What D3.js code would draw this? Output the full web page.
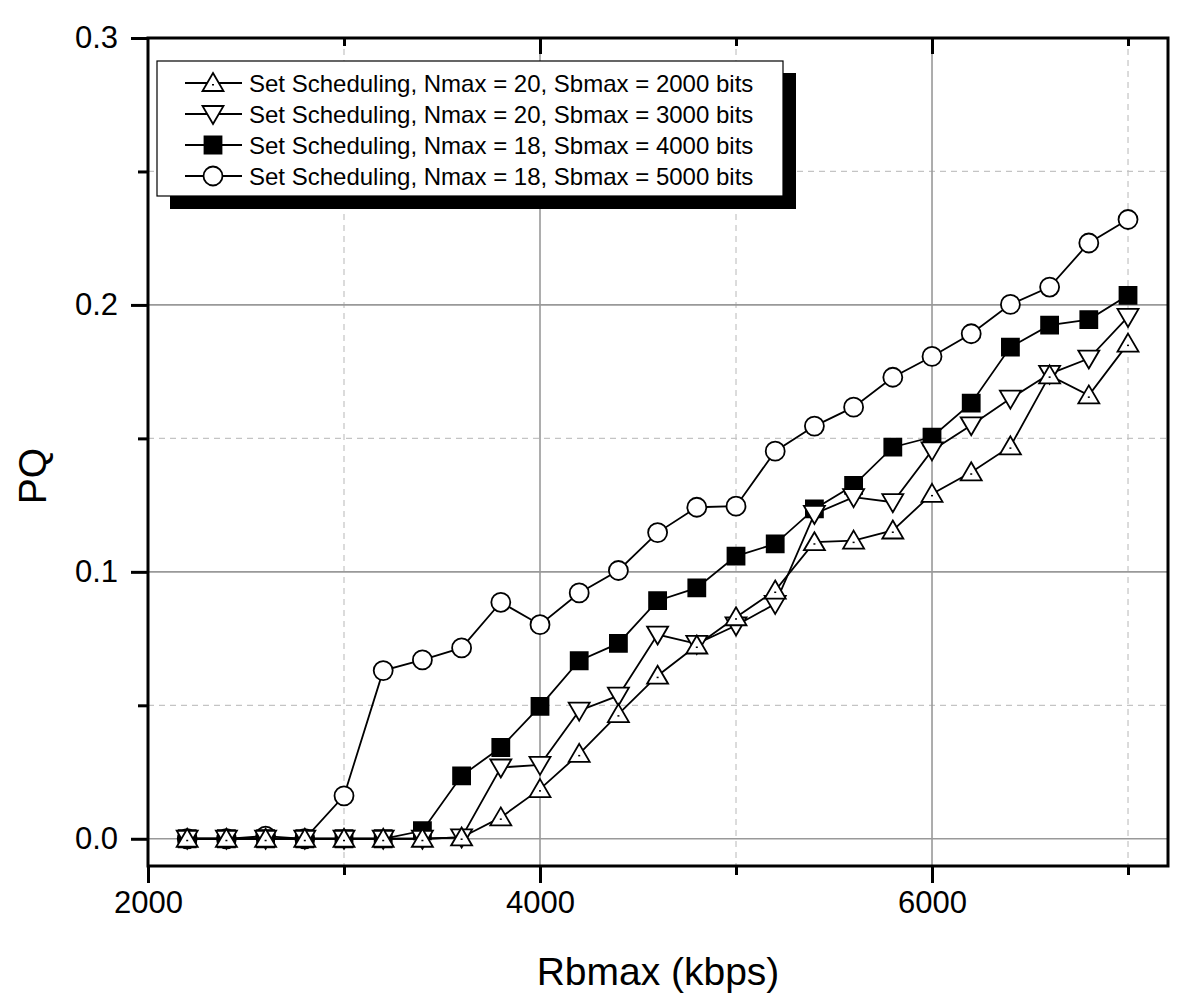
<!DOCTYPE html>
<html>
<head>
<meta charset="utf-8">
<script src="https://cdn.jsdelivr.net/npm/d3@7"></script>
<style>
  body { margin: 0; background: #fff; }
  text { font-family: "Liberation Sans", Arial, sans-serif; fill: #000; }
</style>
</head>
<body>
<div id="chart"></div>
<script>
// x values (kbps)
var rbmax = [2200, 2400, 2600, 2800, 3000, 3200, 3400, 3600, 3800, 4000, 4200, 4400, 4600,
             4800, 5000, 5200, 5400, 5600, 5800, 6000, 6200, 6400, 6600, 6800, 7000];

// PQ for each setting
var sb2000 = [0, 0, 0, 0, 0, 0, 0, 0.0005, 0.008, 0.0186, 0.0318, 0.0467, 0.0611,
              0.0724, 0.083, 0.093, 0.1111, 0.1117, 0.1155, 0.1292, 0.1373, 0.147, 0.1736, 0.1661, 0.1855];
var sb3000 = [0, 0, 0, 0, 0, 0, 0, 0.0005, 0.0267, 0.0277, 0.048, 0.0536, 0.0765,
              0.073, 0.0799, 0.088, 0.1217, 0.128, 0.1261, 0.1455, 0.1549, 0.1649, 0.1742, 0.1799, 0.1955];
var sb4000 = [0, 0, 0, 0, 0, 0, 0.003, 0.0236, 0.0342, 0.0496, 0.0667, 0.0732, 0.0892,
              0.094, 0.1059, 0.1105, 0.1236, 0.1324, 0.1467, 0.1505, 0.1632, 0.1842, 0.1924, 0.1945, 0.2036];
var sb5000 = [0, 0, 0.001, 0, 0.0161, 0.063, 0.067, 0.0715, 0.0886, 0.0802, 0.0921, 0.1005, 0.1147,
              0.1242, 0.1246, 0.1452, 0.1546, 0.1617, 0.1729, 0.1807, 0.1892, 0.2002, 0.2067, 0.2232, 0.232];

var legendLabels = ["Set Scheduling, Nmax = 20, Sbmax = 2000 bits",
                    "Set Scheduling, Nmax = 20, Sbmax = 3000 bits",
                    "Set Scheduling, Nmax = 18, Sbmax = 4000 bits",
                    "Set Scheduling, Nmax = 18, Sbmax = 5000 bits"];
var markers = ["up", "down", "square", "circle"];

var xMajor = [2000, 4000, 6000];
var xMinor = [3000, 5000, 7000];
var yMajor = [0, 0.1, 0.2, 0.3];
var yMinor = [0.05, 0.15, 0.25];

function chart() {
  var series = [sb2000, sb3000, sb4000, sb5000].map(function(vals, i) {
    return { label: legendLabels[i], marker: markers[i],
             points: vals.map(function(v, j) { return { x: rbmax[j], y: v }; }) };
  });

  var W = 1200, H = 996;
  // plot frame
  var pl = 148, pr = 1168, pt = 38, pb = 866;

  var svg = d3.select("#chart").append("svg")
    .attr("width", W).attr("height", H);

  var x = d3.scaleLinear().domain([2000, 7204]).range([pl, pr]);
  var y = d3.scaleLinear().domain([-0.0102, 0.3]).range([pb, pt]);

  // grid lines
  var grid = svg.append("g");
  grid.selectAll(".gxm").data(xMinor).enter().append("line")
    .attr("x1", function(d) { return x(d); }).attr("x2", function(d) { return x(d); })
    .attr("y1", pt).attr("y2", pb)
    .attr("stroke", "#c4c4c4").attr("stroke-width", 1.2).attr("stroke-dasharray", "6,5");
  grid.selectAll(".gym").data(yMinor).enter().append("line")
    .attr("x1", pl).attr("x2", pr)
    .attr("y1", function(d) { return y(d); }).attr("y2", function(d) { return y(d); })
    .attr("stroke", "#c4c4c4").attr("stroke-width", 1.2).attr("stroke-dasharray", "6,5");
  grid.selectAll(".gx").data(xMajor.slice(1)).enter().append("line")
    .attr("x1", function(d) { return x(d); }).attr("x2", function(d) { return x(d); })
    .attr("y1", pt).attr("y2", pb)
    .attr("stroke", "#999").attr("stroke-width", 1.6);
  grid.selectAll(".gy").data(yMajor.slice(0, 3)).enter().append("line")
    .attr("x1", pl).attr("x2", pr)
    .attr("y1", function(d) { return y(d); }).attr("y2", function(d) { return y(d); })
    .attr("stroke", "#999").attr("stroke-width", 1.6);

  // axes
  function styleAxis(g) {
    g.select(".domain").remove();
    g.selectAll("line").attr("stroke", "#000").attr("stroke-width", 3);
    g.selectAll("text").attr("font-size", 31).attr("font-family", "Liberation Sans, Arial, sans-serif");
  }

  svg.append("g").attr("transform", "translate(0," + pb + ")")
    .call(d3.axisBottom(x).tickValues(xMajor).tickSize(17).tickPadding(8).tickFormat(d3.format("d")))
    .call(styleAxis);
  svg.append("g").attr("transform", "translate(0," + pb + ")")
    .call(d3.axisBottom(x).tickValues(xMinor).tickSize(9).tickFormat(""))
    .call(styleAxis);
  svg.append("g").attr("transform", "translate(" + pl + ",0)")
    .call(d3.axisLeft(y).tickValues(yMajor).tickSize(17).tickPadding(13).tickFormat(d3.format(".1f")))
    .call(styleAxis);
  svg.append("g").attr("transform", "translate(" + pl + ",0)")
    .call(d3.axisLeft(y).tickValues(yMinor).tickSize(10).tickFormat(""))
    .call(styleAxis);
  // inward ticks on the top edge
  svg.append("g").attr("transform", "translate(0," + pt + ")")
    .call(d3.axisBottom(x).tickValues(xMajor.slice(1)).tickSize(16).tickFormat(""))
    .call(styleAxis);
  svg.append("g").attr("transform", "translate(0," + pt + ")")
    .call(d3.axisBottom(x).tickValues(xMinor).tickSize(8).tickFormat(""))
    .call(styleAxis);

  // frame
  svg.append("rect")
    .attr("x", pl).attr("y", pt)
    .attr("width", pr - pl).attr("height", pb - pt)
    .attr("fill", "none").attr("stroke", "#000").attr("stroke-width", 3);

  // marker shapes
  function markerPath(type) {
    if (type === "up") return "M0,-10L10.5,8L-10.5,8Z";
    if (type === "down") return "M0,10L10.5,-8L-10.5,-8Z";
    if (type === "square") return "M-8.5,-8.5H8.5V8.5H-8.5Z";
    return d3.symbol(d3.symbolCircle, Math.PI * 9.5 * 9.5)();
  }

  function drawMarker(sel, type) {
    sel.append("path")
      .attr("d", markerPath(type))
      .attr("fill", type === "square" ? "#000" : "#fff")
      .attr("stroke", "#000").attr("stroke-width", 1.8);
    if (type === "up") {
      sel.append("rect").attr("x", -1).attr("y", 1).attr("width", 2).attr("height", 1.5).attr("fill", "#000");
    }
  }

  var line = d3.line().x(function(d) { return x(d.x); }).y(function(d) { return y(d.y); });

  // draw circles first, up triangles last
  var order = [3, 2, 1, 0];
  order.forEach(function(i) {
    svg.append("path").datum(series[i].points)
      .attr("d", line).attr("fill", "none")
      .attr("stroke", "#000").attr("stroke-width", 1.8);
  });
  order.forEach(function(i) {
    var s = series[i];
    svg.append("g").selectAll("g").data(s.points).enter().append("g")
      .attr("transform", function(d) { return "translate(" + x(d.x) + "," + y(d.y) + ")"; })
      .each(function() { drawMarker(d3.select(this), s.marker); });
  });

  // legend with drop shadow
  var lg = svg.append("g");
  lg.append("rect").attr("x", 170).attr("y", 73).attr("width", 626).attr("height", 136).attr("fill", "#000");
  lg.append("rect").attr("x", 157).attr("y", 61).attr("width", 626).attr("height", 135)
    .attr("fill", "#fff").attr("stroke", "#000").attr("stroke-width", 1.2);

  var rows = lg.selectAll(".row").data(series).enter().append("g")
    .attr("transform", function(d, i) { return "translate(0," + (83 + i * 31) + ")"; });
  rows.append("line").attr("x1", 185).attr("x2", 242).attr("y1", 0).attr("y2", 0)
    .attr("stroke", "#000").attr("stroke-width", 1.8);
  rows.append("g").attr("transform", "translate(213,0)")
    .each(function(d) { drawMarker(d3.select(this), d.marker); });
  rows.append("text").attr("x", 249).attr("y", 8.5)
    .style("font-size", "24px")
    .text(function(d) { return d.label; });

  // axis titles
  svg.append("text")
    .attr("x", 658).attr("y", 985)
    .attr("text-anchor", "middle")
    .style("font-size", "39px")
    .text("Rbmax (kbps)");
  svg.append("text")
    .attr("transform", "translate(46,476) rotate(-90)")
    .attr("text-anchor", "middle")
    .style("font-size", "39px")
    .text("PQ");
}

chart();
</script>
</body>
</html>
